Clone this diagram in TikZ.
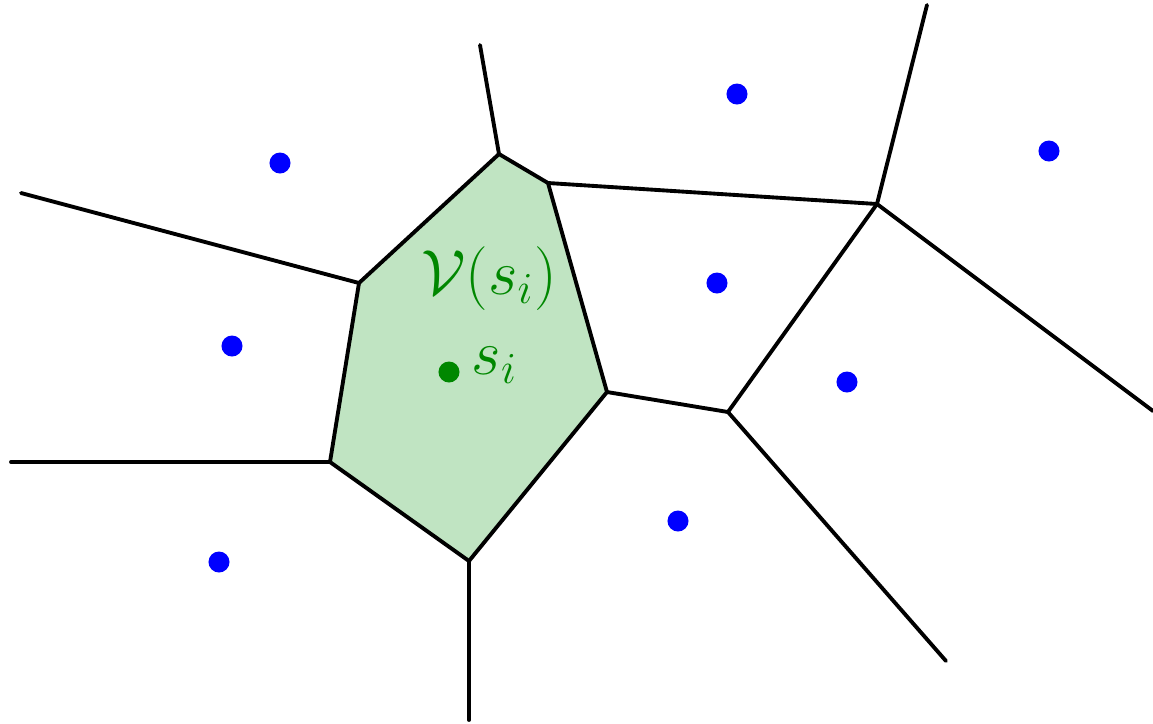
\documentclass[tikz,border=0pt]{standalone}
\usepackage{amsmath,amssymb}
\usepackage{tikz}
\usetikzlibrary{positioning}
\usepackage{xcolor}
\definecolor{cellgreen}{RGB}{192,228,194}
\definecolor{sitegreen}{RGB}{0,135,0}
\tikzset{
  vedge/.style  ={line width=1.1pt, black, line cap=round, line join=round},
  cellfill/.style={fill=cellgreen},
  site/.style   ={circle, fill=blue, inner sep=0pt, minimum size=2.1mm},
  gsite/.style  ={circle, fill=sitegreen, inner sep=0pt, minimum size=2.1mm},
  glbl/.style   ={font=\LARGE, text=sitegreen, inner sep=0pt, scale=1.05},
}
\begin{document}
\begin{tikzpicture}[x=0.01cm, y=-0.01cm]
\useasboundingbox (0,0) rectangle (1153,723);
% vertices of the diagram
\coordinate (a) at (499,154);
\coordinate (b) at (548,183);
\coordinate (c) at (607,392);
\coordinate (d) at (469,561);
\coordinate (e) at (330,462);
\coordinate (f) at (359,283);
\coordinate (g) at (877,204);
\coordinate (h) at (728,412);
% free ends
\coordinate (ra) at (480,45);
\coordinate (rf) at (21,193);
\coordinate (re) at (11,462);
\coordinate (rd) at (469,720);
\coordinate (rg1) at (927,5);
\coordinate (rg2) at (1153,411);
\coordinate (rh) at (946,661);
% the cell of s_i
\fill[cellfill] (a) -- (b) -- (c) -- (d) -- (e) -- (f) -- cycle;
\draw[vedge] (a) -- (b) -- (c) -- (d) -- (e) -- (f) -- cycle;
\draw[vedge] (a) -- (ra);
\draw[vedge] (f) -- (rf);
\draw[vedge] (e) -- (re);
\draw[vedge] (d) -- (rd);
\draw[vedge] (b) -- (g);
\draw[vedge] (g) -- (rg1);
\draw[vedge] (g) -- (rg2);
\draw[vedge] (c) -- (h);
\draw[vedge] (h) -- (g);
\draw[vedge] (h) -- (rh);
% sites
\node[site] (s1) at (280,163) {};
\node[site] (s2) at (737,94) {};
\node[site] (s3) at (1049,151) {};
\node[site] (s4) at (717,283) {};
\node[site] (s5) at (232,346) {};
\node[site] (s6) at (847,382) {};
\node[site] (s7) at (678,521) {};
\node[site] (s8) at (219,562) {};
\node[gsite] (si) at (449,372) {};
\node[glbl, anchor=base west] (silbl) at (471,374) {$s_i$};
\node[glbl, anchor=base] (cell) at (489,294) {$\mathcal{V}(s_i)$};
\end{tikzpicture}
\end{document}
